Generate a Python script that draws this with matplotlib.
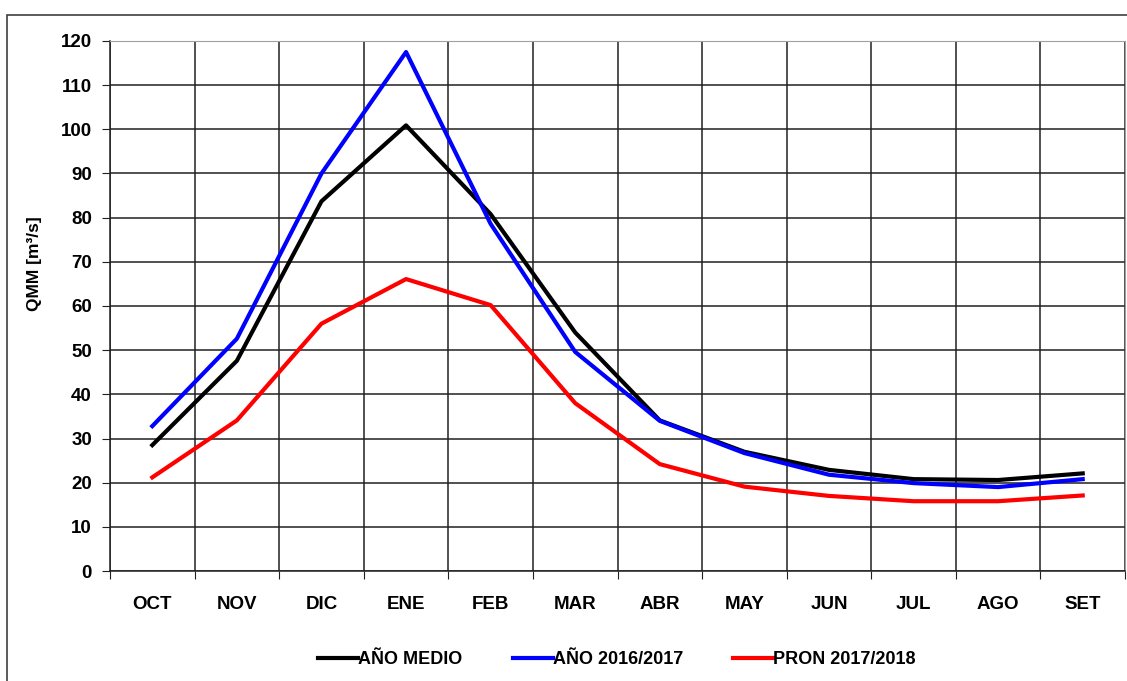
import numpy as np
import matplotlib.pyplot as plt
from matplotlib.patches import Rectangle
from matplotlib.ticker import FixedLocator

plt.rcParams['font.family'] = ['Liberation Sans', 'DejaVu Sans']

meses = ['OCT', 'NOV', 'DIC', 'ENE', 'FEB', 'MAR', 'ABR', 'MAY', 'JUN', 'JUL', 'AGO', 'SET']
ano_medio = [28.5, 47.6, 83.7, 100.9, 80.8, 54.0, 34.1, 27.0, 22.9, 20.8, 20.6, 22.1]
ano_2016 = [32.8, 52.6, 90.0, 117.5, 78.6, 49.6, 34.0, 26.7, 21.8, 19.9, 19.0, 20.8]
pron_2017 = [21.2, 34.1, 56.0, 66.1, 60.2, 38.0, 24.2, 19.1, 17.0, 15.8, 15.8, 17.1]
y_ticks = list(range(0, 121, 10))

fig = plt.figure(figsize=(11.27, 6.81), dpi=100)
# outer frame of the original picture
fig.patches.append(Rectangle((7/1127, -0.1), 1.2, 1 - 15/681 + 0.1, transform=fig.transFigure,
                             fill=False, edgecolor='#404040', linewidth=1.2))
ax = fig.add_axes([110/1127, 1 - 571/681, 1015/1127, 530/681])

x = np.arange(len(meses))
ax.plot(x, ano_medio, color='black', lw=3, label='AÑO MEDIO')
ax.plot(x, ano_2016, color='#0000ff', lw=3, label='AÑO 2016/2017')
ax.plot(x, pron_2017, color='#ff0000', lw=3, label='PRON 2017/2018')

ax.set_xlim(-0.5, len(meses) - 0.5)
ax.set_ylim(0, 120)
ax.set_yticks(y_ticks)
ax.set_yticklabels([str(v) for v in y_ticks], fontsize=13.5, fontweight='bold')
ax.xaxis.set_major_locator(FixedLocator(np.arange(-0.5, len(meses), 1)))
ax.set_xticklabels([])
ax.xaxis.set_minor_locator(FixedLocator(x))
ax.set_xticklabels(meses, minor=True, fontsize=13.5, fontweight='bold')
ax.tick_params(axis='x', which='minor', length=0, pad=18)
ax.tick_params(axis='x', which='major', length=6, direction='out', color='#202020')
ax.tick_params(axis='y', length=6, direction='out', color='#202020', pad=7)

ax.grid(True, which='major', color='#202020', lw=1.1)
ax.set_axisbelow(True)

ax.set_ylabel('QMM [m³/s]', fontsize=12.5, fontweight='bold', labelpad=14)
ax.yaxis.set_label_coords(-0.067, 0.58)
for s in ['top', 'right']:
    ax.spines[s].set_color('#a0a0a0')
for s in ['left', 'bottom']:
    ax.spines[s].set_color('#202020')
    ax.spines[s].set_linewidth(1.1)

fig.legend(loc='center', bbox_to_anchor=(617/1127, 1 - 660/681), ncol=3, frameon=False,
           handlelength=2.2, handletextpad=0.0, columnspacing=2.8,
           prop={'size': 13, 'weight': 'bold'})

fig.savefig('out.png', dpi=100)
